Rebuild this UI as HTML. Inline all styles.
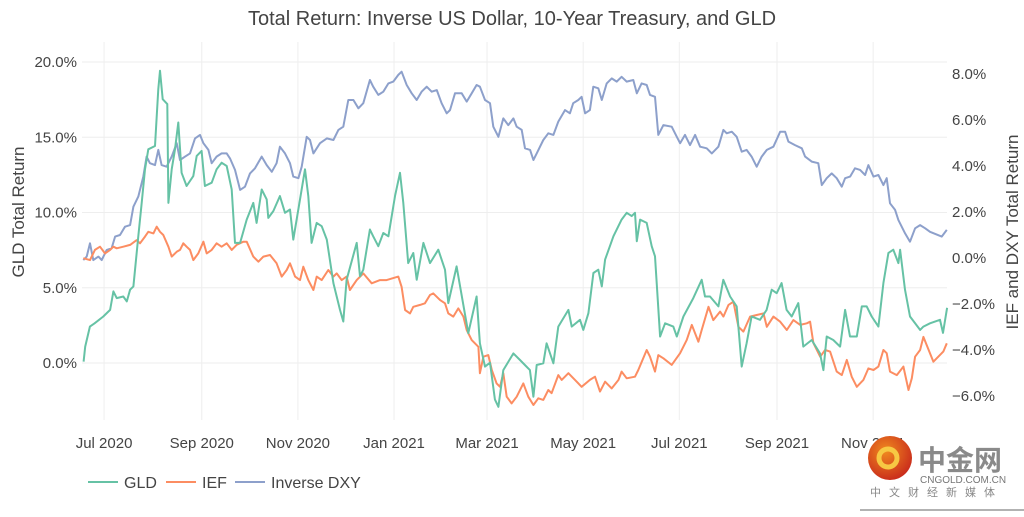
<!DOCTYPE html>
<html><head><meta charset="utf-8">
<style>
html,body{margin:0;padding:0;background:#fff;}
body{width:1024px;height:512px;overflow:hidden;position:relative;font-family:"Liberation Sans","Noto Sans CJK SC",sans-serif;}
svg text{font-family:"Liberation Sans","Noto Sans CJK SC",sans-serif;}
</style></head>
<body>
<svg id="chart" width="1024" height="512" viewBox="0 0 1024 512" xmlns="http://www.w3.org/2000/svg">
  <text x="512" y="25" text-anchor="middle" font-size="20" fill="#444">Total Return: Inverse US Dollar, 10-Year Treasury, and GLD</text>
  <g id="grid"></g>
  <g id="series"></g>
  <g id="axes"></g>
  <text transform="translate(24,212) rotate(-90)" text-anchor="middle" font-size="17" fill="#444">GLD Total Return</text>
  <text transform="translate(1018,232) rotate(-90)" text-anchor="middle" font-size="17" fill="#444">IEF and DXY Total Return</text>
  <g>
    <g>
      <line x1="88" y1="482" x2="118" y2="482" stroke="#66c2a5" stroke-width="2"/>
      <text x="124" y="488" font-size="16" fill="#444">GLD</text>
    </g>
    <g>
      <line x1="166" y1="482" x2="196" y2="482" stroke="#fc8d62" stroke-width="2"/>
      <text x="202" y="488" font-size="16" fill="#444">IEF</text>
    </g>
    <g>
      <line x1="235" y1="482" x2="265" y2="482" stroke="#8da0cb" stroke-width="2"/>
      <text x="271" y="488" font-size="16" fill="#444">Inverse DXY</text>
    </g>
  </g>
  <g>
    <defs><radialGradient id="lg" cx="40%" cy="35%" r="70%"><stop offset="0" stop-color="#f08a1e"/><stop offset="1" stop-color="#c8281c"/></radialGradient></defs>
    <circle cx="890" cy="458" r="22" fill="url(#lg)"/>
    <circle cx="888" cy="458" r="9" fill="none" stroke="#f7c843" stroke-width="5"/>
    <text x="918" y="470" font-size="28" font-weight="bold" fill="#8a8a8a" font-family="'Noto Sans CJK SC',sans-serif">中金网</text>
    <text x="920" y="483" font-size="10" fill="#777">CNGOLD.COM.CN</text>
    <text x="870" y="496" font-size="11" fill="#888" letter-spacing="8" font-family="'Noto Sans CJK SC',sans-serif">中文财经新媒体</text>
    <line x1="860" y1="510" x2="1024" y2="510" stroke="#999" stroke-width="1.5"/>
  </g>
</svg>
<script>
// Data: day offsets from start date (2020-06-17) and total return values (%)
const startDate = "2020-06-17";
const xTickLabels = ["Jul 2020","Sep 2020","Nov 2020","Jan 2021","Mar 2021","May 2021","Jul 2021","Sep 2021","Nov 2021"];
const xTickDays = [14,76,137,198,257,318,379,441,502];
const leftTicks = [0,5,10,15,20];
const rightTicks = [-6,-4,-2,0,2,4,6,8];

const gldDays = [1,2,5,8,13.5,17.8,19.9,22,26.2,28.4,30.5,32.6,35.7,37.9,40,42.1,46.3,48.4,49.5,51.2,54.1,54.8,56.9,59,61.1,63.2,66.4,70.6,72.8,75.9,78,82.3,85.4,88.6,91.8,95,97.1,100.3,104.5,108.7,110.8,114,117.2,118.2,121.4,125.6,128.8,132,134.1,138.3,141.5,143.6,145.7,148.9,152.1,155.3,159.5,163.7,165.8,167.9,174.3,176.4,178.5,182.7,184.8,188,191.2,194.4,198.6,201.8,203.9,207,210.2,212.4,216.6,220.8,226.1,230.3,232.4,237.7,245.1,250.4,252.5,255.7,258.9,262,264.2,267.3,273.7,277.9,281,284.2,286.4,288.5,292.7,294.8,299.1,302.2,308.6,310.7,316,318.1,321.3,324.5,327.6,329.8,331.9,337.2,342.4,345.6,348.8,350.9,352,354.1,358.3,361.5,363.6,366.8,370,375.2,377.4,381.6,387.9,393.2,395.3,398.5,403.8,406.9,411.2,415.4,418.6,421.7,424.9,430.2,434.4,437.6,440.8,443.9,447.1,450.3,454.5,457.7,463,468.3,470.4,472.5,476.7,481,484.2,487.3,491.6,494.8,497.9,501.1,505.3,508.5,511.7,514.8,518,519.1,522.2,525.4,531.8,533.9,538.1,544.4,546.3,548.9];
const gldVals = [0.09,1.09,2.42,2.64,3.09,3.53,4.76,4.31,4.42,4.09,4.87,5.09,8.42,10.64,12.87,14.2,14.42,18.2,19.42,17.53,17.2,10.64,12.87,14.2,15.98,12.64,11.76,12.42,13.76,14.09,11.76,11.98,12.87,13.31,13.09,11.53,7.98,7.98,9.53,10.64,9.31,11.53,10.87,9.64,10.09,11.09,9.98,10.2,8.2,10.87,12.87,11.09,7.98,9.31,9.09,8.2,5.31,3.53,2.76,5.53,7.98,5.76,6.2,8.87,8.42,7.76,8.64,8.42,11.09,12.64,10.64,6.64,7.31,5.53,7.98,6.64,7.53,6.2,3.98,6.42,1.98,4.42,1.31,-0.24,0.02,-2.42,-2.91,-0.47,0.64,0.2,-0.13,-0.47,-2.24,-0.13,-0.02,1.31,-0.02,2.42,3.53,2.42,2.87,2.2,3.31,5.98,6.2,5.09,6.87,8.42,9.53,9.98,9.76,9.98,8.09,9.53,9.31,7.76,7.09,1.76,2.64,2.42,1.76,3.09,4.31,5.53,4.42,4.42,3.76,5.53,4.42,3.76,-0.24,1.31,3.09,2.87,3.53,4.87,4.64,5.31,3.53,3.09,3.98,1.09,1.53,0.64,-0.47,1.76,1.53,1.09,3.53,1.76,1.76,3.76,3.76,3.09,2.42,5.31,7.31,7.53,6.64,7.53,4.87,3.09,2.2,2.42,2.64,2.87,2.0,3.67];

const iefDays = [0.85,5.1,8.2,11.4,14.6,17.8,19.9,22,26.2,30.5,34.7,36.8,40,42.1,45.3,47.4,49.5,51.6,54.8,56.9,60.1,62.2,64.3,66.4,68.5,70.6,73.8,77,79.1,82.3,85.4,88.6,91.8,95,98.1,102.4,104.5,108.7,111.9,115.1,119.3,123.5,126.7,129.9,132,135.2,138.3,140.4,143.6,146.8,148.9,152.1,156.3,159.5,161.6,164.8,167.9,170,174.3,178.5,183.8,189.1,193.3,200.7,202.8,205,208.1,210.2,214.5,217.6,220.8,222.9,227.2,230.3,232.4,235.6,238.8,242,244.1,247.3,251.5,252.5,254.7,257.8,260,263.1,265.2,267.3,269.5,272.6,275.8,280,283.2,286.4,289.5,292.7,295.9,298,302.2,304.4,308.6,312.8,317,322.3,325.5,328.7,331.9,336.1,340.4,342.4,345.6,350.9,353,358.3,360.4,363.6,365.7,368.9,374.2,379.5,383.7,386.9,391.1,393.2,397.5,400.6,404.9,407,410.2,413.3,416.5,419.7,423.9,428.1,432.4,434.5,438.7,443,447.2,451.4,455.7,459.9,462,464.1,468.4,471.5,474.7,478.9,482.1,485.3,488.4,491.6,495.8,499,502.2,505.3,508.5,510.6,512.7,517,521.2,524.4,526.5,528.6,531.8,533.9,540.2,546.5,548.7];
const iefVals = [-0.01,-0.09,0.35,0.49,0.2,0.35,0.49,0.42,0.49,0.57,0.78,0.64,0.93,1.14,1.07,1.36,1.14,1.0,0.49,0.06,0.27,0.35,0.64,0.49,0.35,-0.09,0.2,0.71,0.2,0.35,0.64,0.49,0.64,0.35,0.57,0.71,0.71,0.06,-0.16,0.06,0.13,-0.23,-0.81,-0.52,-0.23,-0.81,-0.96,-0.38,-0.96,-1.39,-0.81,-0.96,-0.52,-0.81,-0.67,-0.96,-0.81,-1.39,-0.96,-0.67,-1.1,-0.96,-0.96,-0.81,-1.25,-2.26,-2.41,-2.12,-2.04,-1.97,-1.61,-1.54,-1.83,-1.97,-2.41,-2.55,-2.19,-2.55,-3.13,-3.57,-3.86,-5.01,-4.29,-4.22,-4.87,-5.45,-5.6,-5.01,-6.03,-6.32,-6.03,-5.45,-6.03,-6.39,-6.1,-6.17,-5.74,-5.88,-5.09,-5.3,-5.01,-5.3,-5.6,-5.3,-5.16,-5.81,-5.38,-5.67,-5.3,-4.94,-5.23,-5.16,-4.87,-4.0,-4.29,-4.94,-4.22,-4.36,-4.65,-4.14,-3.57,-2.91,-3.64,-3.13,-2.12,-2.7,-2.33,-2.55,-2.04,-1.9,-2.99,-3.2,-2.55,-2.48,-2.41,-2.99,-2.55,-2.77,-3.13,-2.7,-2.91,-2.84,-2.77,-3.7,-4.29,-4.0,-4.07,-4.94,-5.09,-4.43,-5.16,-5.6,-5.3,-4.8,-4.87,-4.72,-4.0,-4.14,-4.94,-5.09,-4.72,-5.74,-5.23,-4.29,-4.0,-3.43,-4.51,-4.07,-3.71];

const dxyDays = [0.85,3,5.1,7.2,10.4,12.5,15.7,18.8,21,24.1,27.3,30.5,32.6,35.7,38.9,41,43.1,46.3,48.4,50.5,53.7,56.9,60.1,62.2,65.4,68.5,71.7,74.9,77,80.2,82.3,85.4,88.6,91.8,93.9,97.1,100.3,103.4,106.6,109.8,114,117.2,120.4,123.5,125.6,128.8,132,134.1,137.3,139.4,142.6,144.7,146.8,151,155.3,159.5,162.7,165.8,169,172.2,175.4,178.5,182.7,184.8,188,191.2,194.4,197.5,200.7,202.8,206,209.2,212.4,215.5,218.7,221.9,225.1,228.2,231.4,233.5,236.7,240.9,244.1,247.3,250.4,252.5,255.7,258.9,261,264.2,267.3,270.5,273.7,275.8,279,281.1,284.3,286.4,288.5,292.7,295.9,299.1,302.2,306.5,309.6,311.7,314.9,317,319.2,322.3,324.4,327.6,329.8,332.9,336.1,339.3,342.4,345.6,349.8,352,355.1,358.3,360.4,363.6,365.7,368.9,374.2,377.4,379.5,382.6,385.8,389,392.2,396.4,399.6,403.8,407,409.1,412.3,415.4,418.6,421.7,424.9,428.1,431.3,434.5,438.7,443,446.1,448.2,452.4,456.7,458.8,463,467.2,469.4,472.5,475.7,478.9,482.1,484.2,487.4,490.5,493.7,496.9,499,502.2,505.3,508.5,510.6,512.7,515.9,518,522.3,525.4,528.6,531.8,535,538.1,545.5,548.7];
const dxyVals = [-0.09,0.06,0.64,-0.09,0.06,-0.09,0.35,0.42,0.93,1.0,1.36,1.43,2.23,2.67,3.54,4.41,4.12,4.04,4.7,4.04,3.97,4.41,4.99,4.26,4.41,4.55,5.2,5.35,4.99,4.7,4.12,4.41,4.55,4.55,4.33,3.83,2.96,3.1,3.68,3.9,4.41,4.04,3.75,4.12,4.84,4.55,4.12,3.54,3.47,3.97,5.27,5.13,4.55,4.99,5.2,5.13,5.57,5.71,6.87,6.87,6.51,6.73,7.74,7.45,7.09,7.23,7.59,7.67,7.96,8.1,7.52,7.16,6.87,7.23,7.45,7.23,7.3,6.73,6.29,6.43,7.16,7.16,6.8,7.16,7.52,7.45,6.87,6.73,5.71,5.27,6.07,5.78,6.07,5.71,5.57,4.77,4.7,4.26,4.55,5.13,5.42,5.35,5.93,6.43,6.29,6.73,6.87,7.01,6.29,6.43,7.45,7.38,6.87,7.59,7.81,7.67,7.88,7.67,7.74,7.16,7.59,7.52,7.09,7.01,5.35,5.78,5.71,5.27,4.99,5.35,4.91,5.35,4.84,4.77,4.55,4.84,5.57,5.42,5.49,5.27,4.62,4.7,4.41,3.97,4.41,4.7,4.84,5.49,5.49,5.06,4.91,4.77,4.41,4.19,4.12,3.17,3.47,3.68,3.47,3.1,3.47,3.54,3.9,3.83,3.61,4.04,3.54,3.61,3.17,3.47,2.38,2.09,1.65,1.07,0.71,1.29,1.43,1.29,1.14,0.93,1.22];

const NS = "http://www.w3.org/2000/svg";
const plotL = 82, plotR = 947, plotT = 42, plotB = 420;
function xScale(d){ return 82 + d * 1.576; }
function yLeft(v){ return 363 - v * 15.05; }
function yRight(v){ return 258 - v * 23; }

const grid = document.getElementById('grid');
const axes = document.getElementById('axes');
const series = document.getElementById('series');

xTickDays.forEach((d, i) => {
  const x = xScale(d);
  const gl = document.createElementNS(NS, 'line');
  gl.setAttribute('x1', x); gl.setAttribute('x2', x);
  gl.setAttribute('y1', plotT); gl.setAttribute('y2', plotB);
  gl.setAttribute('stroke', '#eeeeee'); gl.setAttribute('stroke-width', '1');
  
  
  grid.appendChild(gl);
  const t = document.createElementNS(NS, 'text');
  t.setAttribute('x', x); t.setAttribute('y', 448);
  t.setAttribute('text-anchor', 'middle'); t.setAttribute('font-size', '15'); t.setAttribute('fill', '#444');
  t.textContent = xTickLabels[i];
  
  
  axes.appendChild(t);
});

leftTicks.forEach(v => {
  const y = yLeft(v);
  const gl = document.createElementNS(NS, 'line');
  gl.setAttribute('x1', plotL); gl.setAttribute('x2', plotR);
  gl.setAttribute('y1', y); gl.setAttribute('y2', y);
  gl.setAttribute('stroke', '#eeeeee'); gl.setAttribute('stroke-width', '1');
  
  
  grid.appendChild(gl);
  const t = document.createElementNS(NS, 'text');
  t.setAttribute('x', 77); t.setAttribute('y', y + 5);
  t.setAttribute('text-anchor', 'end'); t.setAttribute('font-size', '15'); t.setAttribute('fill', '#444');
  t.textContent = v.toFixed(1) + '%';
  
  
  axes.appendChild(t);
});

rightTicks.forEach(v => {
  const y = yRight(v);
  const t = document.createElementNS(NS, 'text');
  t.setAttribute('x', 952); t.setAttribute('y', y + 5);
  t.setAttribute('text-anchor', 'start'); t.setAttribute('font-size', '15'); t.setAttribute('fill', '#444');
  t.textContent = (v < 0 ? '\u2212' + Math.abs(v).toFixed(1) : v.toFixed(1)) + '%';
  
  
  axes.appendChild(t);
});

function drawLine(days, vals, yfn, color, name){
  const p = document.createElementNS(NS, 'path');
  let d = '';
  days.forEach((dd, i) => { d += (i ? 'L' : 'M') + xScale(dd).toFixed(1) + ',' + yfn(vals[i]).toFixed(1); });
  p.setAttribute('d', d);
  p.setAttribute('fill', 'none'); p.setAttribute('stroke', color);
  p.setAttribute('stroke-width', '2'); p.setAttribute('stroke-linejoin', 'round');
  
  
  series.appendChild(p);
}
drawLine(dxyDays, dxyVals, yRight, '#8da0cb', 'inverse-dxy-line');
drawLine(iefDays, iefVals, yRight, '#fc8d62', 'ief-line');
drawLine(gldDays, gldVals, yLeft, '#66c2a5', 'gld-line');
</script>
</body></html>
